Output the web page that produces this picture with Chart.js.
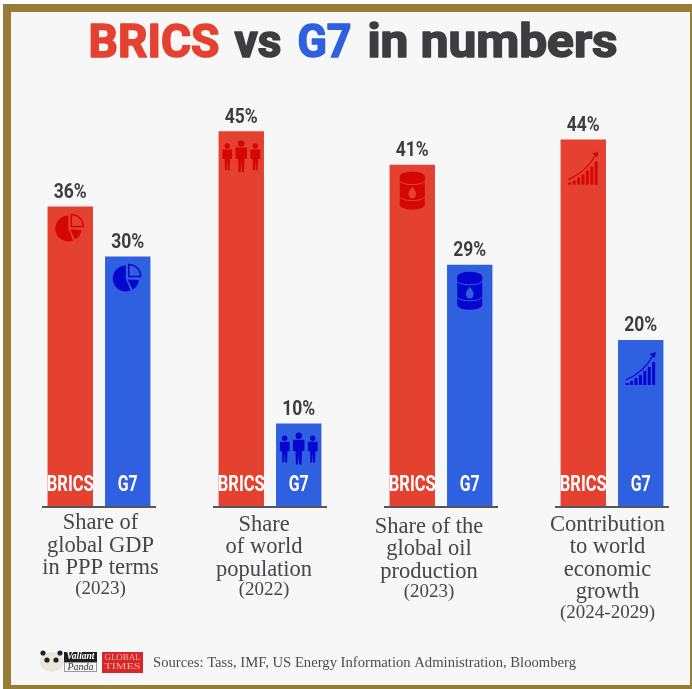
<!DOCTYPE html>
<html>
<head>
<meta charset="utf-8">
<title>BRICS vs G7 in numbers</title>
<style>
  html, body { margin: 0; padding: 0; background: #fff; overflow: hidden; }
  #frame { position: absolute; left: 3px; top: 4px; width: 689px; height: 685px; box-sizing: border-box;
           background: #f7f7f8; border: solid #967d35; border-width: 8px 2px 4px 8px; }
  #wrap { position: absolute; left: 0; top: 0; width: 692px; height: 689px; }
</style>
</head>
<body>
<div id="frame"></div>
<div id="wrap"><canvas id="chart" width="692" height="689"></canvas></div>
<script src="https://cdn.jsdelivr.net/npm/chart.js@4"></script>
<script>
var categories = ["GDP", "Population", "Oil", "Growth"];
var bricsValues = [36, 45, 41, 44];
var g7Values = [30, 10, 29, 20];
var captions = [
  ["Share of", "global GDP", "in PPP terms"],
  ["Share", "of world", "population"],
  ["Share of the", "global oil", "production"],
  ["Contribution", "to world", "economic", "growth"]
];
var years = ["(2023)", "(2022)", "(2023)", "(2024-2029)"];
var sources = "Sources: Tass, IMF, US Energy Information Administration, Bloomberg";

var RED = "#e54130", BLUE = "#2f60e0", RED_DARK = "#d40606", BLUE_DARK = "#0606cf", INK = "#3d3d3f";
var NARROW = '"Liberation Sans Narrow", Roboto, sans-serif';
var SERIF = '"Liberation Serif", serif';

// text squeezed to a given width, real text still
function fitText(ctx, text, cx, cy, font, color, width, heavy) {
  ctx.save();
  ctx.font = font;
  ctx.fillStyle = color;
  ctx.textAlign = "center";
  ctx.textBaseline = "middle";
  var sx = width ? width / ctx.measureText(text).width : 1;
  ctx.translate(cx, cy);
  ctx.scale(sx, 1);
  if (heavy) {
    ctx.strokeStyle = color;
    ctx.lineWidth = heavy;
    ctx.lineJoin = "round";
    ctx.strokeText(text, 0, 0);
  }
  ctx.fillText(text, 0, 0);
  ctx.restore();
}

function drawPie(ctx, x, y, dark, bar) {
  var r = 13;
  ctx.fillStyle = dark;
  ctx.beginPath();
  ctx.moveTo(x - 1, y + 1);
  ctx.arc(x - 1, y + 1, r, -Math.PI / 2, Math.PI * 0.38, true);
  ctx.closePath();
  ctx.fill();
  ctx.strokeStyle = dark;
  ctx.lineWidth = 1.5;
  ctx.beginPath();
  ctx.moveTo(x + 2, y - 1);
  ctx.arc(x + 2, y - 1, r - 1, -Math.PI / 2, 0);
  ctx.closePath();
  ctx.stroke();
  ctx.beginPath();
  ctx.moveTo(x + 1, y + 2);
  ctx.arc(x + 1, y + 2, r - 2, 0.05, Math.PI * 0.36);
  ctx.closePath();
  ctx.fill();
}

function drawPerson(ctx, x, top, h, dark) {
  var w = h * 0.36;
  ctx.fillStyle = dark;
  ctx.beginPath();
  ctx.arc(x, top + h * 0.1, h * 0.1, 0, Math.PI * 2);
  ctx.fill();
  ctx.beginPath();
  ctx.moveTo(x - w * 0.5, top + h * 0.23);
  ctx.lineTo(x + w * 0.5, top + h * 0.23);
  ctx.lineTo(x + w * 0.5, top + h * 0.58);
  ctx.lineTo(x + w * 0.28, top + h * 0.58);
  ctx.lineTo(x + w * 0.24, top + h);
  ctx.lineTo(x + w * 0.05, top + h);
  ctx.lineTo(x, top + h * 0.62);
  ctx.lineTo(x - w * 0.05, top + h);
  ctx.lineTo(x - w * 0.24, top + h);
  ctx.lineTo(x - w * 0.28, top + h * 0.58);
  ctx.lineTo(x - w * 0.5, top + h * 0.58);
  ctx.closePath();
  ctx.fill();
}

function drawBarrel(ctx, x, top, dark, bar) {
  var w = 25, h = 38;
  ctx.fillStyle = dark;
  ctx.beginPath();
  ctx.ellipse(x, top + 5, w / 2, 5, 0, 0, Math.PI * 2);
  ctx.fill();
  ctx.fillRect(x - w / 2, top + 5, w, h - 10);
  ctx.beginPath();
  ctx.ellipse(x, top + h - 5, w / 2, 5, 0, 0, Math.PI * 2);
  ctx.fill();
  ctx.strokeStyle = bar;
  ctx.lineWidth = 1;
  [12, 28].forEach(function (dy) {
    ctx.beginPath();
    ctx.ellipse(x, top + dy - 3, w / 2, 4, 0, 0, Math.PI);
    ctx.stroke();
  });
  ctx.fillStyle = bar;
  ctx.beginPath();
  ctx.moveTo(x, top + 15);
  ctx.quadraticCurveTo(x + 5, top + 21, x + 3.5, top + 24);
  ctx.arc(x, top + 23, 3.7, 0.2, Math.PI - 0.2);
  ctx.quadraticCurveTo(x - 5, top + 21, x, top + 15);
  ctx.fill();
}

function drawGrowth(ctx, x, top, dark) {
  var heights = [2, 4, 7, 10, 14, 18, 23];
  ctx.fillStyle = dark;
  heights.forEach(function (h, i) {
    ctx.fillRect(x - 15 + i * 4.4, top + 33 - h, 3, h);
  });
  ctx.strokeStyle = dark;
  ctx.lineWidth = 1.2;
  ctx.beginPath();
  ctx.moveTo(x - 15, top + 28);
  ctx.quadraticCurveTo(x + 4, top + 20, x + 13, top + 2);
  ctx.stroke();
  ctx.beginPath();
  ctx.moveTo(x + 15, top);
  ctx.lineTo(x + 9, top + 2);
  ctx.lineTo(x + 14, top + 6);
  ctx.closePath();
  ctx.fillStyle = dark;
  ctx.fill();
}

function drawIcon(ctx, kind, x, top, dark, bar) {
  if (kind === 0) drawPie(ctx, x - 1, top + 21, dark, bar);
  if (kind === 1) {
    drawPerson(ctx, x - 14, top + 12, 27, dark);
    drawPerson(ctx, x + 14, top + 12, 27, dark);
    drawPerson(ctx, x, top + 9, 32, dark);
  }
  if (kind === 2) drawBarrel(ctx, x, top + 7, dark, bar);
  if (kind === 3) drawGrowth(ctx, x, top + 12, dark);
}

var decorPlugin = {
  id: "decor",
  afterDatasetsDraw: function (chart) {
    var ctx = chart.ctx;
    var xs = chart.scales.x;
    var base = chart.scales.y.getPixelForValue(0);

    // title in four coloured pieces
    var titleFont = 'bold 46px ' + NARROW;
    fitText(ctx, "BRICS", 154, 45, titleFont, RED, 131, 1.6);
    fitText(ctx, "vs", 258, 45, titleFont, INK, 47, 1.6);
    fitText(ctx, "G7", 324.5, 45, titleFont, BLUE, 54, 1.6);
    fitText(ctx, "in numbers", 492.5, 45, titleFont, INK, 250, 1.6);

    chart.data.datasets.forEach(function (ds, d) {
      var meta = chart.getDatasetMeta(d);
      meta.data.forEach(function (bar, i) {
        var dark = d === 0 ? RED_DARK : BLUE_DARK;
        var fill = d === 0 ? RED : BLUE;
        fitText(ctx, ds.data[i] + "%", bar.x, bar.y - 14, 'bold 21px ' + NARROW, INK, 33);
        drawIcon(ctx, i, bar.x, bar.y, dark, fill);
        fitText(ctx, ds.label, bar.x, base - 21.5, 'bold 22px ' + NARROW, "#ffffff", d === 0 ? 47 : 20);
      });
    });

    // baseline under each pair of bars
    ctx.fillStyle = "#55565a";
    categories.forEach(function (c, i) {
      ctx.fillRect(xs.getPixelForValue(i) - 57, base - 1, 114, 2);
    });

    // captions sit a bit off centre in the original
    var dx = [1.5, -6, -12, -4.5];
    var firstLine = [523.5, 525, 527, 525];
    captions.forEach(function (lines, i) {
      var cx = xs.getPixelForValue(i) + dx[i];
      var y = firstLine[i];
      lines.forEach(function (line) {
        fitText(ctx, line, cx, y, '22.5px ' + SERIF, "#46464a");
        y += 22.3;
      });
      fitText(ctx, years[i], cx, y - 1.5, '19px ' + SERIF, "#46464a");
    });

    // logos and source line
    ctx.fillStyle = "#e9e6da";
    ctx.beginPath();
    ctx.ellipse(52, 662, 12, 10, 0, 0, Math.PI * 2);
    ctx.fill();
    ctx.fillStyle = "#222";
    [[47, 660], [56, 660], [43, 653], [60, 653]].forEach(function (p) {
      ctx.beginPath();
      ctx.arc(p[0], p[1], 2.6, 0, Math.PI * 2);
      ctx.fill();
    });
    ctx.fillStyle = "#1d1d1f";
    ctx.fillRect(64, 652, 33, 10);
    ctx.strokeStyle = "#999";
    ctx.lineWidth = 1;
    ctx.strokeRect(64.5, 662.5, 32, 9);
    fitText(ctx, "Valiant", 80.5, 657, 'italic bold 9.5px ' + SERIF, "#ffffff");
    fitText(ctx, "Panda", 80.5, 667, 'italic 10px ' + SERIF, "#333");
    ctx.fillStyle = "#d9262c";
    ctx.fillRect(102, 652, 41, 21);
    fitText(ctx, "GLOBAL", 122.5, 657.5, '8.5px ' + SERIF, "#f3b9a0", 36);
    fitText(ctx, "TIMES", 122.5, 667, '8.5px ' + SERIF, "#f3b9a0", 36);
    fitText(ctx, sources, 364.5, 663, '14px ' + SERIF, "#4c4c50", 423);
  }
};

new Chart(document.getElementById("chart").getContext("2d"), {
  type: "bar",
  data: {
    labels: categories,
    datasets: [
      { label: "BRICS", data: bricsValues, backgroundColor: RED, clip: false },
      { label: "G7", data: g7Values, backgroundColor: BLUE, clip: false }
    ]
  },
  options: {
    responsive: false,
    animation: false,
    layout: { padding: { left: 99, right: 80, top: 89.5, bottom: 182 } },
    categoryPercentage: 0.672,
    barPercentage: 0.79,
    scales: {
      x: { offset: false, display: false, grid: { display: false } },
      y: { display: false, min: 0, max: 50, grid: { display: false } }
    },
    plugins: {
      legend: { display: false },
      tooltip: { enabled: false }
    }
  },
  plugins: [decorPlugin]
});
</script>
</body>
</html>
